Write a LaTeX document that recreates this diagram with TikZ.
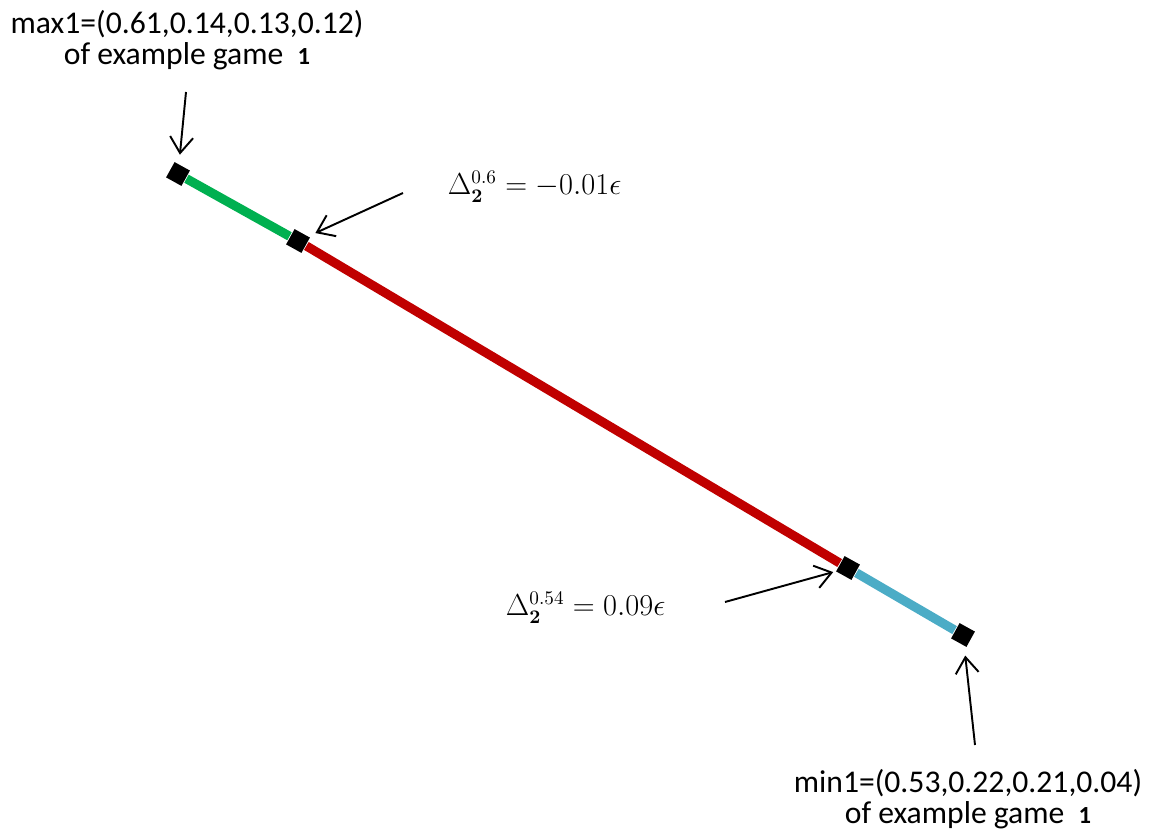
\documentclass[tikz,border=0pt]{standalone}
\usepackage[no-math]{fontspec}
\setmainfont{Carlito}
\usetikzlibrary{arrows.meta}
\definecolor{segGreen}{RGB}{0,176,80}
\definecolor{segRed}{RGB}{192,0,0}
\definecolor{segBlue}{RGB}{75,172,198}
\newcommand{\gameone}{\textbf{\fontsize{14}{14}\selectfont 1}}
\begin{document}
\begin{tikzpicture}[line width=1.1pt, >={Straight Barb[length=3.2mm, width=4.6mm]},
    pt/.style={fill=black, rectangle, minimum size=0.35cm, inner sep=0pt, rotate=-29},
    seg/.style={line width=5.2pt},
    lbl/.style={align=center, font=\fontsize{18}{17.6}\selectfont, inner sep=0pt},
    mathlbl/.style={font=\fontsize{16}{19}\selectfont, inner sep=0pt}]
  \useasboundingbox (0,0) rectangle (23.16,16.72);
  % points on the segment
  \node[pt] (max1) at (3.56,13.24) {};
  \node[pt] (d06) at (5.96,11.90) {};
  \node[pt] (d054) at (16.96,5.36) {};
  \node[pt] (min1) at (19.26,4.02) {};
  \draw[seg, segGreen] (max1) -- (d06);
  \draw[seg, segRed] (d06) -- (d054);
  \draw[seg, segBlue] (d054) -- (min1);
  % labels
  \node[lbl] (maxlbl) at (3.74,15.92) {max1=(0.61,0.14,0.13,0.12)\\of example game~~\gameone};
  \node[lbl] (minlbl) at (19.36,0.74) {min1=(0.53,0.22,0.21,0.04)\\of example game~~\gameone};
  \node[mathlbl, anchor=base west] (d06lbl) at (8.94,12.82) {$\Delta_{\mathbf{2}}^{0.6}=-0.01\epsilon$};
  \node[mathlbl, anchor=base west] (d054lbl) at (10.10,4.40) {$\Delta_{\mathbf{2}}^{0.54}=0.09\epsilon$};
  % arrows
  \coordinate (maxtail) at (3.72,14.88);
  \coordinate (d06tail) at (8.06,12.86);
  \coordinate (d054tail) at (14.50,4.68);
  \coordinate (mintail) at (19.50,1.82);
  \draw[->, shorten >=5pt] (maxtail) -- (max1);
  \draw[->, shorten >=4pt] (d06tail) -- (d06);
  \draw[->, shorten >=1pt] (d054tail) -- (d054);
  \draw[->, shorten >=5pt] (mintail) -- (min1);
\end{tikzpicture}
\end{document}
